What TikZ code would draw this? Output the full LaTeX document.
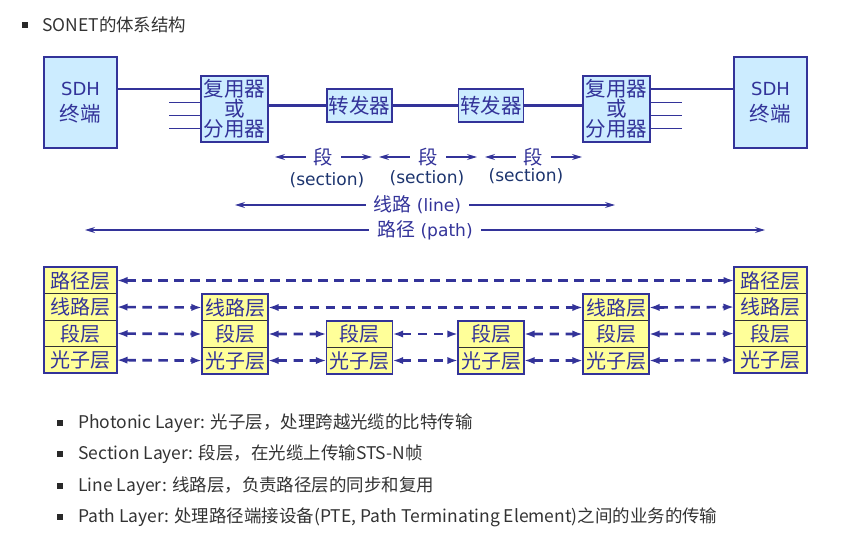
\documentclass[tikz,border=0pt]{standalone}
\usepackage{fontspec}
\setmainfont{DejaVu Sans}
\newfontfamily\cjk{Noto Sans CJK SC}
\usetikzlibrary{arrows.meta, positioning, calc}
\definecolor{ink}{RGB}{51,51,153}
\definecolor{secink}{RGB}{28,52,110}
\definecolor{sky}{RGB}{204,236,255}
\definecolor{lemon}{RGB}{255,255,153}
\definecolor{body}{RGB}{51,51,51}

\begin{document}
\begin{tikzpicture}[x=0.75pt, y=-0.75pt,
  >={Stealth[length=7.5pt, width=4.5pt]},
  unit/.style={draw=ink, line width=1.2pt, fill=sky, text=ink, align=center,
    inner sep=0pt, outer sep=0pt},
  termbox/.style={unit, minimum width=54.75pt, minimum height=68.25pt,
    font=\fontsize{13.5}{19.5}\selectfont},
  muxbox/.style={unit, minimum width=50.25pt, minimum height=49.5pt,
    font=\cjk\fontsize{15.4}{15}\selectfont},
  repbox/.style={unit, minimum width=49pt, minimum height=24.75pt,
    font=\cjk\fontsize{15.4}{15}\selectfont},
  cell/.style={draw=black!80, line width=0.8pt, fill=lemon, text=ink,
    minimum height=19.9pt, inner sep=0pt, outer sep=0pt,
    font=\cjk\fontsize{15}{15}\selectfont},
  wide/.style={cell, minimum width=54.5pt},
  slim/.style={cell, minimum width=49.5pt},
  frame/.style={draw=ink, line width=1.3pt},
  feed/.style={draw=ink, line width=1.1pt},
  trunk/.style={draw=ink, line width=2.3pt},
  span/.style={draw=ink, line width=0.9pt, <->},
  spanlbl/.style={fill=white, text=ink, inner xsep=6pt, inner ysep=1pt},
  seclbl/.style={text=secink, inner sep=0pt, font=\fontsize{12.8}{15}\selectfont},
  peer/.style={draw=ink, line width=2pt, dash pattern=on 7pt off 5pt,
    {Latex[length=8pt, width=5.5pt]}-{Latex[length=8pt, width=5.5pt]}},
  bul/.style={fill=body!80!black, minimum size=4.5pt, inner sep=0pt},
  note/.style={anchor=west, text=body, inner sep=0pt,
    font=\cjk\fontsize{13.1}{15}\selectfont}
]
\useasboundingbox (0,0) rectangle (867,541);

% heading
\node[bul] (b0) at (25,25) {};
\node[note] (title) at (42,25) {SONET的体系结构};

% equipment chain
\node[termbox] (tlU) at (80.5,102.5) {SDH\\{\cjk\fontsize{15.4}{19.5}\selectfont 终端}};
\node[muxbox] (mlU) at (234.5,109) {复用器\\或\\分用器};
\node[repbox] (raU) at (359.5,105.5) {转发器};
\node[repbox] (rbU) at (491,105.5) {转发器};
\node[muxbox] (mrU) at (616.5,109) {复用器\\或\\分用器};
\node[termbox] (trU) at (770.5,102.5) {SDH\\{\cjk\fontsize{15.4}{19.5}\selectfont 终端}};

\coordinate (ml-in) at ($(mlU.west)+(0,-20)$);
\coordinate (mr-in) at ($(mrU.east)+(0,-20)$);
\draw[feed] (ml-in) -- (ml-in -| tlU.east);
\draw[feed] (mr-in) -- (mr-in -| trU.west);
\foreach \dy in {-6.5,6.5,19.5} {
  \draw[feed] ($(mlU.west)+(0,\dy)$) -- ++(-32,0);
  \draw[feed] ($(mrU.east)+(0,\dy)$) -- ++(32,0);
}
\draw[trunk] (mlU.east |- raU.west) -- (raU.west);
\draw[trunk] (raU) -- (rbU);
\draw[trunk] (rbU.east) -- (rbU.east -| mrU.west);

% spans
\foreach \i/\a/\b in {1/275/372, 2/379/477, 3/485/582} {
  \coordinate (s\i a) at (\a,157);
  \coordinate (s\i b) at (\b,157);
  \draw[span] (s\i a) -- node[spanlbl, font=\cjk\fontsize{14.5}{15}\selectfont] (s\i t) {段} (s\i b);
}
\node[seclbl] (sec1) at (327,180) {(section)};
\node[seclbl] (sec2) at (427,178) {(section)};
\node[seclbl] (sec3) at (526,176) {(section)};

\coordinate (lna) at (235,205);
\coordinate (lnb) at (615,205);
\draw[span] (lna) -- node[spanlbl, pos=0.48, font=\fontsize{12.8}{15}\selectfont] (lnt)
  {{\cjk\fontsize{14.2}{15}\selectfont 线路} (line)} (lnb);
\coordinate (pta) at (85,230);
\coordinate (ptb) at (765,230);
\draw[span] (pta) -- node[spanlbl, font=\fontsize{12.8}{15}\selectfont] (ptt)
  {{\cjk\fontsize{14.2}{15}\selectfont 路径} (path)} (ptb);

% layer stacks
\node[wide] (tl-path) at (80.5,280.5) {路径层};
\node[wide, below=0pt of tl-path] (tl-line) {线路层};
\node[wide, below=0pt of tl-line] (tl-sec) {段层};
\node[wide, below=0pt of tl-sec] (tl-pho) {光子层};

\node[slim] (ml-line) at (235,307.5) {线路层};
\node[slim, below=0pt of ml-line] (ml-sec) {段层};
\node[slim, below=0pt of ml-sec] (ml-pho) {光子层};

\node[slim] (ra-sec) at (359.5,334) {段层};
\node[slim, below=0pt of ra-sec] (ra-pho) {光子层};

\node[slim] (rb-sec) at (491,334) {段层};
\node[slim, below=0pt of rb-sec] (rb-pho) {光子层};

\node[slim] (mr-line) at (616,307.5) {线路层};
\node[slim, below=0pt of mr-line] (mr-sec) {段层};
\node[slim, below=0pt of mr-sec] (mr-pho) {光子层};

\node[wide] (tr-path) at (770.5,280.5) {路径层};
\node[wide, below=0pt of tr-path] (tr-line) {线路层};
\node[wide, below=0pt of tr-line] (tr-sec) {段层};
\node[wide, below=0pt of tr-sec] (tr-pho) {光子层};

\foreach \s/\t in {tl/path, ml/line, ra/sec, rb/sec, mr/line, tr/path}
  \draw[frame] (\s-\t.north west) rectangle (\s-pho.south east);

% peer links
\draw[peer] (tl-path.east) -- (tr-path.west);
\foreach \a/\b in {tl/ml, ml/mr, mr/tr}
  \draw[peer] (\a-line.east) -- (\b-line.west);
\foreach \a/\b in {tl/ml, ml/ra, ra/rb, rb/mr, mr/tr}
  \foreach \l in {sec, pho}
    \draw[peer] (\a-\l.east) -- (\b-\l.west);

% notes
\node[bul] (b1) at (60,423) {};
\node[note] (n1) at (78,423) {Photonic Layer: 光子层，处理跨越光缆的比特传输};
\node[bul] (b2) at (60,454) {};
\node[note] (n2) at (78,454) {Section Layer: 段层，在光缆上传输STS-N帧};
\node[bul] (b3) at (60,486) {};
\node[note] (n3) at (78,486) {Line Layer: 线路层，负责路径层的同步和复用};
\node[bul] (b4) at (60,517) {};
\node[note] (n4) at (78,517) {Path Layer: 处理路径端接设备(PTE, Path Terminating Element)之间的业务的传输};
\end{tikzpicture}
\end{document}
